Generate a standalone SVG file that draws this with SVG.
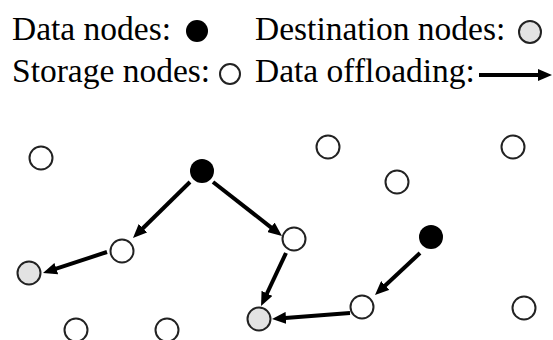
<svg xmlns="http://www.w3.org/2000/svg" width="553" height="340" viewBox="0 0 553 340">
<defs>
<style>
.t{font-family:"Liberation Serif","Times New Roman",serif;font-size:33.5px;fill:#000}
.n{stroke:#222;stroke-width:2}
.s{fill:#fff}
.d{fill:#000}
.g{fill:#e3e3e3}
.a{stroke:#000;stroke-width:4;fill:none;marker-end:url(#ah)}
</style>
<marker id="ah" markerUnits="userSpaceOnUse" markerWidth="14" markerHeight="12" refX="4" refY="6" orient="auto">
<path d="M0,0 L14,6 L0,12 z" fill="#000"/>
</marker>
</defs>
<rect width="553" height="340" fill="#fff"/>
<g id="legend">
<text class="t" x="12" y="40">Data nodes:</text>
<circle class="d" cx="197" cy="31" r="11"/>
<text class="t" x="255" y="40">Destination nodes:</text>
<circle class="n g" cx="530" cy="32" r="11"/>
<text class="t" x="12" y="82">Storage nodes:</text>
<circle class="n s" cx="230" cy="74" r="10"/>
<text class="t" x="255" y="82">Data offloading:</text>
<line class="a" x1="479" y1="75" x2="542" y2="75"/>
</g>
<g id="connectors">
<line class="a" x1="190" y1="182" x2="140.1" y2="231"/>
<line class="a" x1="213" y1="182" x2="274.1" y2="229.8"/>
<line class="a" x1="286" y1="253" x2="265.3" y2="297"/>
<line class="a" x1="420" y1="253" x2="382.3" y2="288.2"/>
<line class="a" x1="350" y1="313" x2="282" y2="318.2"/>
<line class="a" x1="107" y1="252" x2="52.5" y2="269.9"/>
</g>
<g id="s1"><circle class="n s" cx="41" cy="158" r="11.5"/></g>
<g id="s2"><circle class="n s" cx="122" cy="251" r="11.5"/></g>
<g id="s3"><circle class="n s" cx="76" cy="330" r="11.5"/></g>
<g id="s4"><circle class="n s" cx="167" cy="330" r="11.5"/></g>
<g id="s5"><circle class="n s" cx="328" cy="147" r="11.5"/></g>
<g id="s6"><circle class="n s" cx="513" cy="147" r="11.5"/></g>
<g id="s7"><circle class="n s" cx="397" cy="182" r="11.5"/></g>
<g id="s8"><circle class="n s" cx="294" cy="239" r="11.5"/></g>
<g id="s9"><circle class="n s" cx="362" cy="307" r="11.5"/></g>
<g id="s10"><circle class="n s" cx="524" cy="308" r="11.5"/></g>
<g id="d1"><circle class="d" cx="202" cy="171" r="12"/></g>
<g id="d2"><circle class="d" cx="431" cy="237" r="12"/></g>
<g id="g1"><circle class="n g" cx="29" cy="273" r="11.5"/></g>
<g id="g2"><circle class="n g" cx="259" cy="319" r="11.5"/></g>
</svg>
